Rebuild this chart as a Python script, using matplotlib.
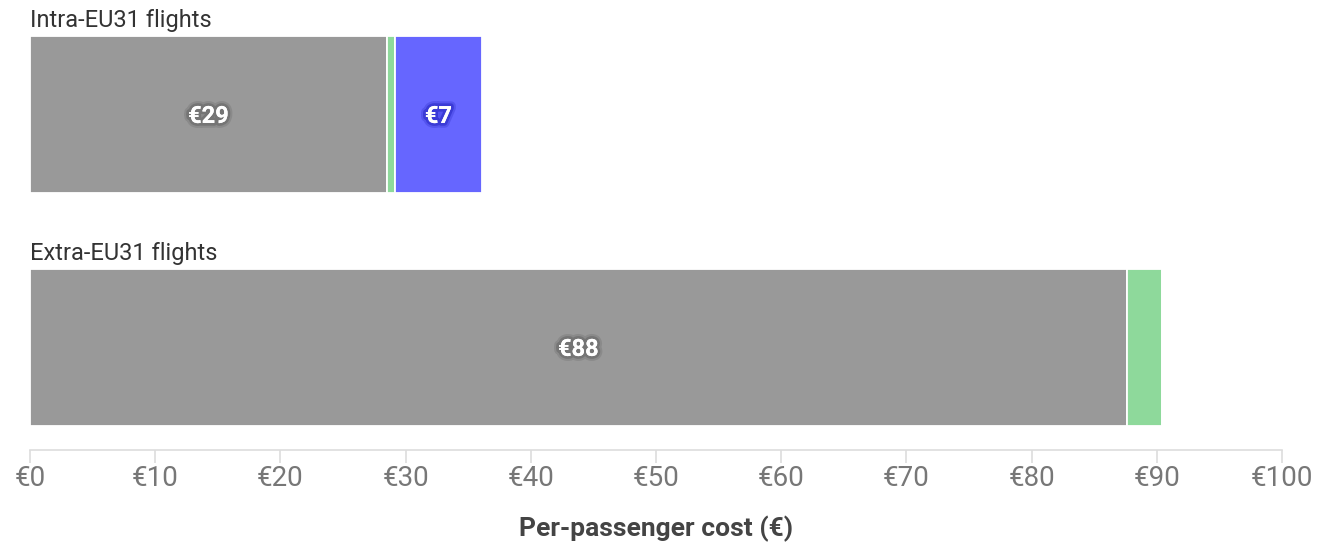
import numpy as np
import matplotlib.pyplot as plt
import matplotlib.patheffects as pe

plt.rcParams['font.family'] = ['Roboto', 'DejaVu Sans']

# data
categories = ['Intra-EU31 flights', 'Extra-EU31 flights']
grey_part = [28.5, 87.6]
green_part = [0.65, 2.8]
blue_part = [6.95, 0.0]
bar_labels = [['€29', None, '€7'], ['€88', None, None]]
ticks = np.arange(0, 101, 10)

colors = ['#999999', '#8ed99b', '#6666ff']
halo = ['#707070', None, '#3535d0']

fig = plt.figure(figsize=(13.27, 5.44), dpi=100)
W, H = 1327, 544
ax = fig.add_axes([30 / W, 1 - 450 / H, (1282 - 30) / W, 420 / H])

y = np.arange(len(categories))
bh = 157 / 233
segs = [grey_part, green_part, blue_part]
left = np.zeros(len(categories))
for k, vals in enumerate(segs):
    vals = np.array(vals)
    ax.barh(y, vals, left=left, height=bh, color=colors[k],
            edgecolor='white', linewidth=1.3)
    for i in range(len(categories)):
        lab = bar_labels[i][k]
        if lab:
            ax.text(left[i] + vals[i] / 2, y[i] + 0.008, lab, ha='center', va='center',
                    color='white', fontsize=17, fontweight='bold',
                    path_effects=[pe.withStroke(linewidth=7, foreground=halo[k], alpha=0.35),
                                  pe.withStroke(linewidth=4, foreground=halo[k], alpha=0.8),
                                  pe.Normal()])
    left = left + vals

for i, cat in enumerate(categories):
    ax.annotate(cat, xy=(0, y[i] - bh / 2), xytext=(0, 3), textcoords='offset points',
                ha='left', va='bottom', fontsize=17, color='#333333')

ax.set_xlim(0, 100)
ax.set_ylim(1.44, -0.363)
ax.set_yticks([])
ax.set_xticks(ticks)
ax.set_xticklabels([f'€{t}' for t in ticks], fontsize=20, color='#777777')
ax.tick_params(axis='x', length=9, color='#dddddd', width=1.2, pad=2)
for s in ['top', 'right', 'left']:
    ax.spines[s].set_visible(False)
ax.spines['bottom'].set_color('#dddddd')
ax.spines['bottom'].set_linewidth(1.2)
ax.set_xlabel('Per-passenger cost (€)', fontsize=19, fontweight='bold',
              color='#444444', labelpad=17)

fig.savefig('out.png', dpi=100)
